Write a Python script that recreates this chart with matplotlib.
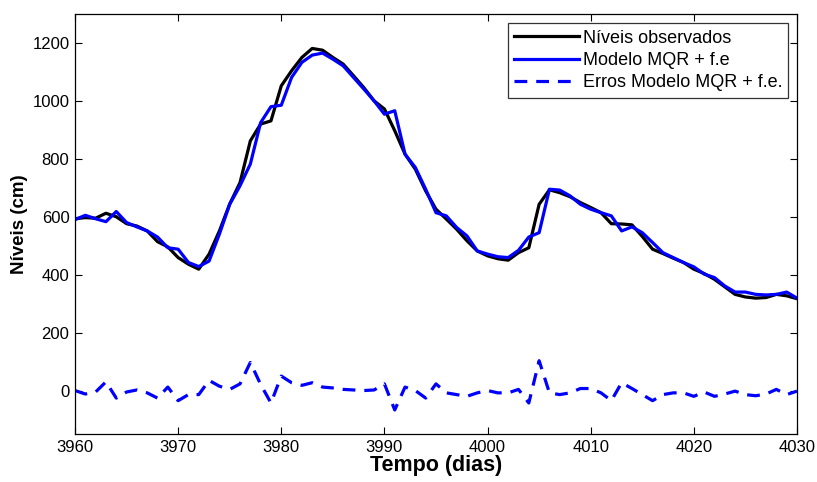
import numpy as np
import matplotlib
matplotlib.use("Agg")
import matplotlib.pyplot as plt

plt.rcParams['font.family'] = ['Liberation Sans', 'DejaVu Sans']

# dias 3960..4030
dias = np.arange(3960, 4031)

niveis_obs = [593, 597, 595, 612, 600, 576, 568, 551, 514, 496,
              459, 436, 419, 471, 551, 644, 718, 862, 920, 931,
              1052, 1104, 1150, 1181, 1175, 1150, 1127, 1087, 1046, 1000,
              972, 897, 816, 764, 689, 626, 592, 557, 517, 482,
              465, 455, 450, 476, 493, 643, 693, 683, 669, 649,
              632, 614, 576, 575, 572, 532, 488, 473, 457, 442,
              419, 404, 384, 358, 332, 323, 319, 321, 332, 327,
              317]

modelo_mqr = [590, 605, 593, 583, 618, 580, 565, 551, 530, 493,
              488, 442, 428, 447, 540, 643, 707, 782, 925, 980,
              985, 1081, 1133, 1158, 1165, 1144, 1121, 1081, 1041, 1000,
              954, 966, 816, 770, 695, 614, 603, 563, 534, 482,
              471, 462, 459, 484, 530, 545, 695, 692, 672, 643,
              626, 614, 603, 551, 565, 545, 511, 476, 459, 442,
              427, 402, 390, 361, 340, 340, 332, 330, 332, 340,
              319]

erros_mqr = [0, -12, -5, 30, -26, -5, 2, -8, -26, 12,
             -35, -14, -14, 35, 15, 4, 23, 97, 21, -43,
             50, 27, 18, 27, 12, 9, 4, 2, 0, 2,
             23, -67, 12, 0, -26, 23, -8, -14, -20, -8,
             0, -8, -8, 4, -43, 103, -8, -14, -8, 7,
             7, -8, -35, 27, 7, -14, -35, -14, -8, -8,
             -20, -5, -20, -12, -2, -14, -18, -12, 4, -14,
             -2]

fig = plt.figure(figsize=(8.17, 4.82), dpi=100)
ax = fig.add_axes([0.0918, 0.0996, 0.8837, 0.8714])

ax.plot(dias, niveis_obs, color='black', lw=2.3, label='Níveis observados')
ax.plot(dias, modelo_mqr, color=(0, 0, 1), lw=2.3, label='Modelo MQR + f.e')
ax.plot(dias, erros_mqr, color=(0, 0, 1), lw=2.3, ls=(0, (4, 2.8)),
        label='Erros Modelo MQR + f.e.')

ax.set_xlim(3960, 4030)
ax.set_ylim(-150, 1300)
ax.set_xticks(np.arange(3960, 4031, 10))
ax.set_yticks(np.arange(0, 1201, 200))
ax.tick_params(direction='in', top=True, right=True, labelsize=12,
               length=5, width=0.8, pad=4)
for s in ax.spines.values():
    s.set_linewidth(0.9)

ax.set_xlabel('Tempo (dias)', fontsize=15.5, fontweight='bold', labelpad=0)
ax.set_ylabel('Níveis (cm)', fontsize=13.5, fontweight='bold', labelpad=3)

leg = ax.legend(loc='upper right', bbox_to_anchor=(0.988, 0.978),
                fontsize=13, frameon=True, fancybox=False,
                handlelength=3.6, handletextpad=0.2, borderpad=0.35,
                labelspacing=0.3, borderaxespad=0)
leg.get_frame().set_edgecolor('black')
leg.get_frame().set_linewidth(0.9)

fig.savefig('out.png', dpi=100)
